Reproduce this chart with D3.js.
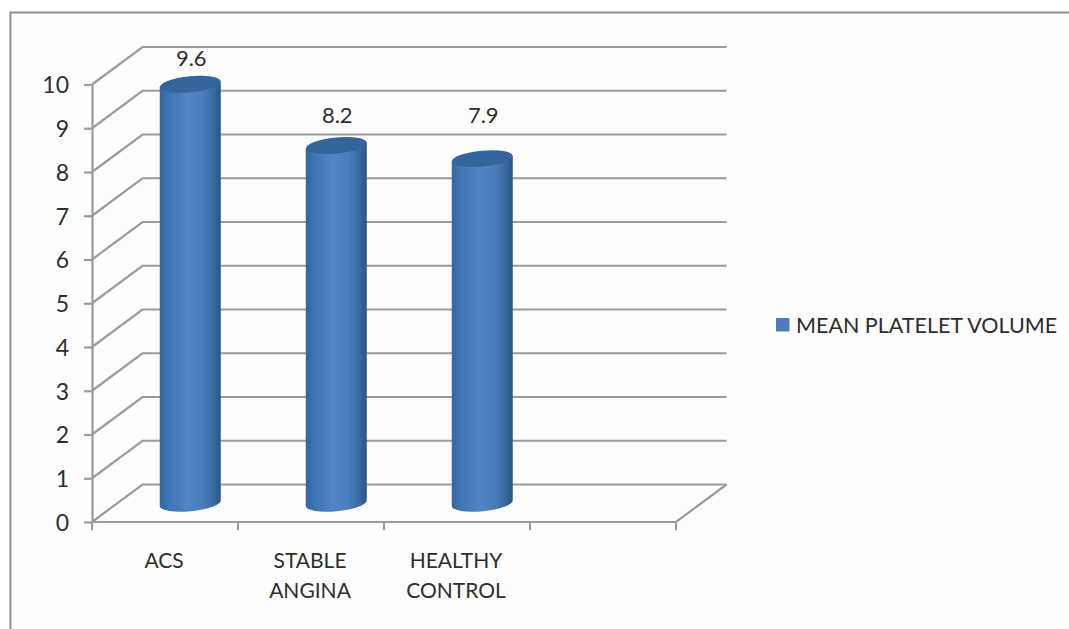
<!DOCTYPE html>
<html>
<head>
<meta charset="utf-8">
<script src="https://cdn.jsdelivr.net/npm/d3@7/dist/d3.min.js"></script>
<style>
  html, body { margin: 0; padding: 0; background: #fff; }
  svg { display: block; }
  text { font-family: Lato, "Open Sans", sans-serif; fill: #2e2e2e; }
</style>
</head>
<body>
<svg id="chart" width="1069" height="629"></svg>
<script>
// Chart data
const categories = [["ACS"], ["STABLE", "ANGINA"], ["HEALTHY", "CONTROL"], [""]];
const values = [9.6, 8.2, 7.9];
const valueLabels = ["9.6", "8.2", "7.9"];
const yTicks = [0, 1, 2, 3, 4, 5, 6, 7, 8, 9, 10];
const seriesName = "MEAN PLATELET VOLUME";

// Layout of the oblique 3-D plot box
const frontLeft = 92, frontRight = 676, frontBottom = 522, frontTop = 84.5;
const depthX = 50.5, depthY = -37.5;
const barRx = 30.5, barRy = 8, barTilt = -5.5;
const labelRise = [17, 22, 35];
const gridColor = "#9b9b9b";

const svg = d3.select("#chart");

// Scales work on the front plane; bars sit halfway into the depth
const y = d3.scaleLinear().domain([0, 10]).range([frontBottom, frontTop]);
const x = d3.scaleBand().domain(d3.range(categories.length)).range([frontLeft, frontRight]);

// Chart frame, open to the right and the bottom of the page
svg.append("rect")
  .attr("x", 10.5).attr("y", 12.5).attr("width", 1058.5).attr("height", 616.5)
  .attr("fill", "#fdfdfd");
svg.append("path")
  .attr("d", "M10.5,629V12.5H1069")
  .attr("fill", "none")
  .attr("stroke", "#8f8f8f")
  .attr("stroke-width", 2);

// Horizontal shading for the cylinder sides
const grad = svg.append("defs").append("linearGradient").attr("id", "cyl");
[[0, "#33659f"], [0.12, "#3b72b0"], [0.45, "#5086c6"], [0.7, "#4a7dbb"], [0.9, "#36679f"], [1, "#2a5587"]]
  .forEach(([o, c]) => grad.append("stop").attr("offset", o).attr("stop-color", c));

// Gridlines on the wall and their slanted continuation on the side wall
const grid = svg.append("g")
  .attr("fill", "none").attr("stroke", gridColor).attr("stroke-width", 2.2);
grid.selectAll("path.wall").data(yTicks).join("path")
  .attr("class", "wall")
  .attr("d", d => `M${frontLeft},${y(d)}L${frontLeft + depthX},${y(d) + depthY}H${frontRight + depthX}`);
// Right edge of the floor and the front baseline
grid.append("path")
  .attr("d", `M${frontLeft},${y(0)}H${frontRight}L${frontRight + depthX},${y(0) + depthY}`);

// Value axis
const yAxis = d3.axisLeft(y).tickValues(yTicks).tickSize(8).tickPadding(15).tickSizeOuter(0);
const yG = svg.append("g").attr("transform", `translate(${frontLeft},0)`).call(yAxis);
yG.select(".domain").attr("stroke", gridColor).attr("stroke-width", 2.2);
yG.selectAll(".tick line").attr("stroke", gridColor).attr("stroke-width", 2.2);
yG.selectAll(".tick text")
  .attr("font-size", 23).attr("dy", "0.36em")
  .style("font-family", "Lato, 'Open Sans', sans-serif").attr("fill", "#2e2e2e");

// Category tick marks on the boundaries of each band
svg.append("g").selectAll("line").data(d3.range(categories.length + 1)).join("line")
  .attr("x1", i => frontLeft + i * x.bandwidth())
  .attr("x2", i => frontLeft + i * x.bandwidth())
  .attr("y1", frontBottom).attr("y2", frontBottom + 8)
  .attr("stroke", gridColor).attr("stroke-width", 2);

// Cylinders
const barCx = i => x(i) + x.bandwidth() / 2 + depthX / 2;
const barY = v => y(v) + depthY / 2;
const slope = Math.tan(barTilt * Math.PI / 180);
const bars = svg.append("g");
values.forEach((v, i) => {
  const cx = barCx(i), top = barY(v) + 1, base = barY(0);
  const lx = cx - barRx, rx = cx + barRx, dy = barRx * slope;
  bars.append("path")
    .attr("d", `M${lx},${top - dy}L${lx},${base - dy}` +
      `A${barRx},${barRy} ${barTilt} 0 0 ${rx},${base + dy}` +
      `L${rx},${top + dy}Z`)
    .attr("fill", "url(#cyl)");
  bars.append("ellipse")
    .attr("rx", barRx).attr("ry", barRy)
    .attr("transform", `translate(${cx},${top}) rotate(${barTilt})`)
    .attr("fill", "#34649c");
});

// Value labels above the cylinders
svg.append("g").selectAll("text").data(values).join("text")
  .attr("x", (d, i) => barCx(i) + 1)
  .attr("y", (d, i) => barY(d) - labelRise[i])
  .attr("text-anchor", "middle")
  .attr("font-size", 22)
  .text((d, i) => valueLabels[i]);

// Category labels, split over two lines where needed
const catG = svg.append("g").selectAll("text").data(categories).join("text")
  .attr("text-anchor", "middle")
  .attr("font-size", 21)
  .attr("transform", (d, i) => `translate(${x(i) + x.bandwidth() / 2 - 1},568)`);
catG.selectAll("tspan").data(d => d).join("tspan")
  .attr("x", 0).attr("dy", (d, i) => i ? 30 : 0).text(d => d);

// Legend
svg.append("rect")
  .attr("x", 776).attr("y", 318).attr("width", 13.5).attr("height", 13.5)
  .attr("fill", "#4a7ebb");
svg.append("text")
  .attr("x", 796).attr("y", 332.5)
  .attr("font-size", 21.5)
  .text(seriesName);
</script>
</body>
</html>
